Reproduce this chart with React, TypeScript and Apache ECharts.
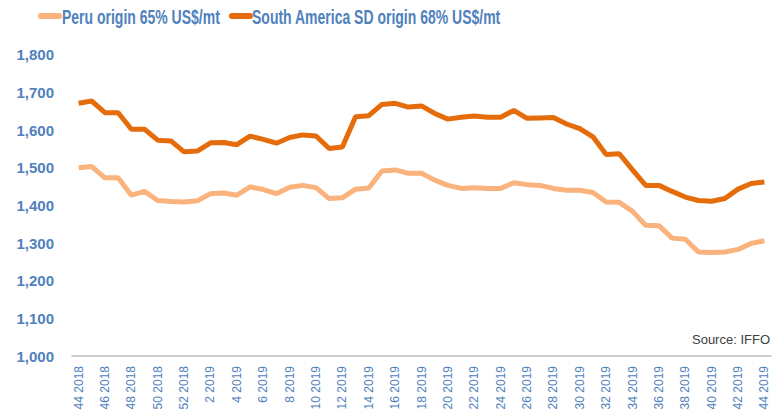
import React, { useEffect, useRef } from "react";
import * as echarts from "echarts";

const weeks: string[] = [
  "44 2018", "45 2018", "46 2018", "47 2018", "48 2018", "49 2018", "50 2018", "51 2018", "52 2018",
  "1 2019", "2 2019", "3 2019", "4 2019", "5 2019", "6 2019", "7 2019", "8 2019", "9 2019",
  "10 2019", "11 2019", "12 2019", "13 2019", "14 2019", "15 2019", "16 2019", "17 2019", "18 2019",
  "19 2019", "20 2019", "21 2019", "22 2019", "23 2019", "24 2019", "25 2019", "26 2019", "27 2019",
  "28 2019", "29 2019", "30 2019", "31 2019", "32 2019", "33 2019", "34 2019", "35 2019", "36 2019",
  "37 2019", "38 2019", "39 2019", "40 2019", "41 2019", "42 2019", "43 2019", "44 2019",
];

const peru: number[] = [
  1500, 1503, 1473, 1473, 1427, 1437, 1413, 1410, 1409,
  1412, 1431, 1433, 1427, 1449, 1442, 1431, 1448, 1453,
  1447, 1418, 1420, 1443, 1446, 1491, 1494, 1485, 1485,
  1467, 1453, 1445, 1447, 1445, 1445, 1460, 1455, 1453,
  1445, 1440, 1440, 1434, 1409, 1408, 1384, 1347, 1346,
  1313, 1310, 1276, 1275, 1276, 1283, 1299, 1306,
];

const southAmerica: number[] = [
  1671, 1677, 1646, 1646, 1602, 1602, 1573, 1571, 1542,
  1544, 1566, 1567, 1561, 1584, 1575, 1565, 1580, 1587,
  1584, 1551, 1555, 1635, 1638, 1668, 1671, 1661, 1664,
  1644, 1629, 1634, 1637, 1634, 1634, 1652, 1631, 1632,
  1633, 1616, 1604, 1582, 1535, 1537, 1494, 1453, 1453,
  1437, 1422, 1413, 1411, 1418, 1443, 1458, 1462,
];

const seriesNames: string[] = [
  "Peru origin 65% US$/mt",
  "South America SD origin 68% US$/mt",
];

const seriesColors: string[] = ["#FAB37C", "#E46C0A"];

export default function App() {
  const ref = useRef<HTMLDivElement>(null);
  useEffect(() => {
    if (!ref.current) return;
    const chart = echarts.init(ref.current, null, { renderer: "svg" });
    const blue = "#4F81BD";
    const legendItems = [
      { iconX: 38, textX: 62 },
      { iconX: 229, textX: 252 },
    ];
    const legendGraphics: any[] = [];
    legendItems.forEach((it, i) => {
      legendGraphics.push({
        type: "rect",
        shape: { x: it.iconX, y: 13, width: 24, height: 6, r: 3 },
        style: { fill: seriesColors[i] },
      });
      legendGraphics.push({
        type: "text",
        x: it.textX,
        y: 17,
        scaleX: 0.7,
        style: {
          text: seriesNames[i],
          fill: blue,
          fontSize: 20,
          fontWeight: "bold",
          fontFamily: "Liberation Sans, sans-serif",
          verticalAlign: "middle",
          align: "left",
        },
      });
    });
    chart.setOption({
      animation: false,
      backgroundColor: "#FFFFFF",
      grid: { left: 72, right: 2, top: 54.7, bottom: 61 },
      xAxis: {
        type: "category",
        data: weeks,
        boundaryGap: true,
        axisLine: { lineStyle: { color: "#BFBFBF", width: 1.5 } },
        axisTick: { show: false },
        axisLabel: {
          interval: 1,
          rotate: 90,
          color: blue,
          fontSize: 12,
          margin: 10,
          fontFamily: "Liberation Sans, sans-serif",
        },
        splitLine: { show: false },
      },
      yAxis: {
        type: "value",
        min: 1000,
        max: 1800,
        interval: 100,
        axisLine: { show: false },
        axisTick: { show: false },
        splitLine: { show: false },
        axisLabel: {
          color: blue,
          fontSize: 15,
          fontWeight: "bold",
          margin: 18,
          fontFamily: "Liberation Sans, sans-serif",
          formatter: (v: number) => v.toLocaleString("en-US"),
        },
      },
      graphic: [
        ...legendGraphics,
        {
          type: "text",
          right: 3,
          top: 333,
          style: {
            text: "Source: IFFO",
            fill: "#404040",
            fontSize: 13,
            fontFamily: "Liberation Sans, sans-serif",
          },
        },
      ],
      series: [
        {
          name: seriesNames[0],
          type: "line",
          data: peru,
          symbol: "none",
          lineStyle: { color: seriesColors[0], width: 5 },
          itemStyle: { color: seriesColors[0] },
        },
        {
          name: seriesNames[1],
          type: "line",
          data: southAmerica,
          symbol: "none",
          lineStyle: { color: seriesColors[1], width: 5 },
          itemStyle: { color: seriesColors[1] },
        },
      ],
    });
    return () => chart.dispose();
  }, []);
  return (
    <div
      ref={ref}
      style={{ position: "fixed", left: 0, top: 0, width: 773, height: 417 }}
    />
  );
}
